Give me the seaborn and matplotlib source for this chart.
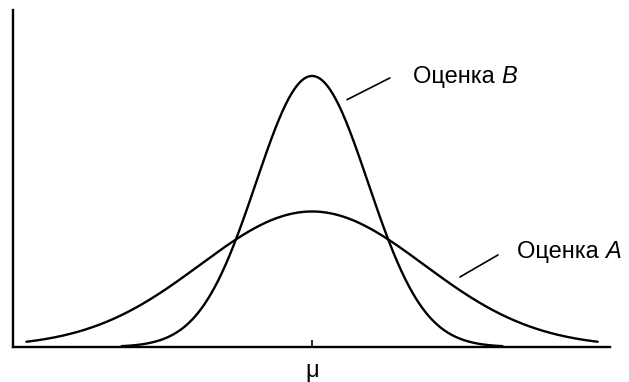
import numpy as np
import pandas as pd
import matplotlib
matplotlib.use("Agg")
import matplotlib.pyplot as plt
import seaborn as sns

# Two unbiased estimators of the same mean: same centre, different spread
mu = 0.0
estimators = ["Оценка A", "Оценка B"]
sigmas = [2.0, 1.0]          # spread of each estimator
spans = [5.1, 3.4]           # drawn half-width, in units of x
label_x = [3.66, 1.80]
label_y = [0.140, 0.398]
leader_start = [(2.64, 0.103), (0.625, 0.364)]
leader_end = [(3.32, 0.1355), (1.39, 0.396)]
tick_label = "μ"

frames = []
for name, s, w in zip(estimators, sigmas, spans):
    x = np.linspace(mu - w, mu + w, 400)
    y = np.exp(-0.5 * ((x - mu) / s) ** 2) / (s * np.sqrt(2 * np.pi))
    frames.append(pd.DataFrame({"x": x, "density": y, "estimator": name}))
df = pd.concat(frames, ignore_index=True)

sns.set_style("white")
plt.rcParams["font.family"] = ["Liberation Sans", "DejaVu Sans"]
plt.rcParams["text.color"] = "black"
plt.rcParams["xtick.color"] = "black"
plt.rcParams["xtick.labelcolor"] = "black"

fig = plt.figure(figsize=(6.29, 3.82), dpi=100)
ax = fig.add_axes([13 / 629, 35 / 382, 597 / 629, 337 / 382])

sns.lineplot(data=df, x="x", y="density", hue="estimator",
             palette=["black", "black"], linewidth=1.7, legend=False,
             ax=ax, sort=False)

for name, lx, ly, p0, p1 in zip(estimators, label_x, label_y, leader_start, leader_end):
    base, letter = name.rsplit(" ", 1)
    ax.plot([p0[0], p1[0]], [p0[1], p1[1]], color="black", linewidth=1.2)
    t = ax.text(lx, ly, base + " ", fontsize=17, va="center", ha="left",
                color="black")
    ax.annotate(letter, xycoords=t, xy=(1, 0.5), va="center", ha="left",
                fontsize=17, style="italic", color="black")

ax.set_xlim(-5.34, 5.32)
ax.set_ylim(0, 0.496)
ax.set_xticks([mu])
ax.set_xticklabels([tick_label], fontsize=17, color="black")
ax.set_yticks([])
ax.tick_params(axis="x", direction="in", length=5, width=1.2, pad=9, bottom=True)
ax.set_xlabel("")
ax.set_ylabel("")
for side in ["top", "right"]:
    ax.spines[side].set_visible(False)
for side in ["left", "bottom"]:
    ax.spines[side].set_color("black")
    ax.spines[side].set_linewidth(1.7)

fig.savefig("out.png", dpi=100)
